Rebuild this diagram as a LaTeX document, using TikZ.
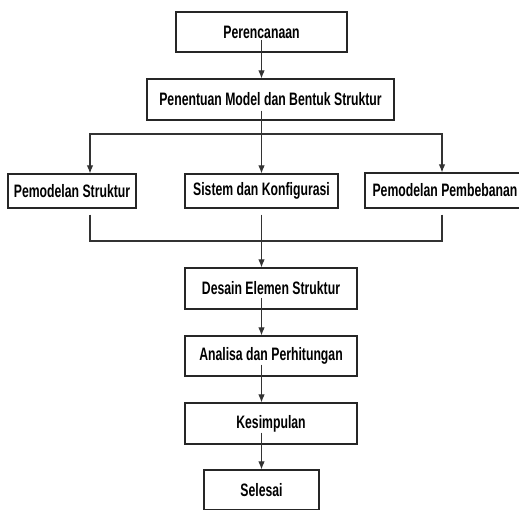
\documentclass[tikz,border=0pt]{standalone}
\usepackage{fontspec}
\newfontfamily\boxfont[FakeStretch=0.68]{Liberation Sans Bold}
\usetikzlibrary{arrows.meta}

\tikzset{
  stage/.style={draw=black!85, line width=1.2pt, fill=white, inner sep=0pt,
    font=\boxfont\fontsize{18}{20}\selectfont},
  link/.style={draw=black!80, line width=1.1pt}
}

\begin{document}
\begin{tikzpicture}[x=1pt, y=-1pt, >={Latex[length=8pt,width=6.5pt]}]
            \useasboundingbox (0,0) rectangle (519,509);
            \clip (0,0) rectangle (519,509);

            \node[stage, minimum width=171pt, minimum height=40pt] (plan) at (261.5, 32) {Perencanaan};
            \node[stage, minimum width=247pt, minimum height=41pt] (model) at (270.5, 99.5) {Penentuan Model dan Bentuk Struktur};

            \node[stage, minimum width=128pt, minimum height=34pt] (pstruk) at (72, 191) {Pemodelan Struktur};
            \node[stage, minimum width=153pt, minimum height=34pt] (sistem) at (261.5, 191) {Sistem dan Konfigurasi};
            \node[stage, minimum width=160pt, minimum height=35pt] (pbeban) at (445, 190.5) {Pemodelan Pembebanan};

            \node[stage, minimum width=172pt, minimum height=41pt] (desain) at (271, 288.5) {Desain Elemen Struktur};
            \node[stage, minimum width=172pt, minimum height=40pt] (analisa) at (271, 356) {Analisa dan Perhitungan};
            \node[stage, minimum width=172pt, minimum height=41pt] (kesim) at (271, 423.5) {Kesimpulan};
            \node[stage, minimum width=115pt, minimum height=40pt] (selesai) at (261.5, 490) {Selesai};

            \coordinate (split) at (261.5, 134);
            \coordinate (merge) at (261.5, 241);

            \draw[link, ->] ([yshift=13pt]plan.south) to (model.north -| plan);
            \draw[link] ([yshift=10pt]model.south -| plan) to (split);
            \draw[link, ->] (split) -| ([xshift=18pt]pstruk.north);
            \draw[link, ->] (split) to (sistem.north);
            \draw[link, ->] (split) -| ([xshift=-3pt]pbeban.north);

            \draw[link] ([xshift=18pt,yshift=-6pt]pstruk.south) |- (merge);
            \draw[link] ([xshift=-3pt,yshift=-6pt]pbeban.south) |- (merge);
            \draw[link, ->] ([yshift=-6pt]sistem.south) to (desain.north -| plan);

            \draw[link, ->] ([yshift=12pt]desain.south -| plan) to (analisa.north -| plan);
            \draw[link, ->] ([yshift=12pt]analisa.south -| plan) to (kesim.north -| plan);
            \draw[link, ->] ([yshift=12pt]kesim.south -| plan) to (selesai.north);
          \end{tikzpicture}
\end{document}
